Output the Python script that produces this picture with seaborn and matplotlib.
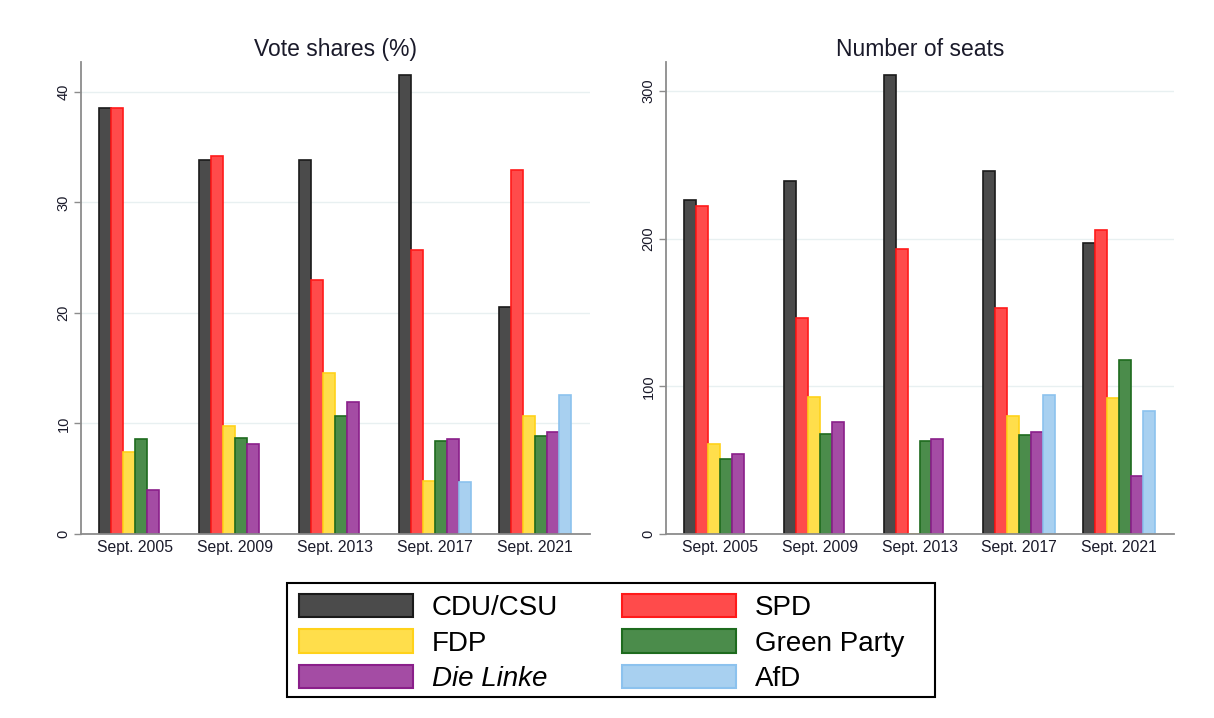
import numpy as np
import pandas as pd
import matplotlib
matplotlib.use("Agg")
import matplotlib.pyplot as plt
import seaborn as sns

elections = ["Sept. 2005", "Sept. 2009", "Sept. 2013", "Sept. 2017", "Sept. 2021"]
parties = ["CDU/CSU", "SPD", "FDP", "Green Party", "Die Linke", "AfD"]

vote_cdu = [38.5, 33.8, 33.8, 41.5, 20.5]
vote_spd = [38.5, 34.2, 23.0, 25.7, 32.9]
vote_fdp = [7.4, 9.8, 14.6, 4.8, 10.7]
vote_green = [8.6, 8.7, 10.7, 8.4, 8.9]
vote_linke = [4.0, 8.1, 11.9, 8.6, 9.2]
vote_afd = [np.nan, np.nan, np.nan, 4.7, 12.6]

seats_cdu = [226, 239, 311, 246, 197]
seats_spd = [222, 146, 193, 153, 206]
seats_fdp = [61, 93, 0, 80, 92]
seats_green = [51, 68, 63, 67, 118]
seats_linke = [54, 76, 64, 69, 39]
seats_afd = [np.nan, np.nan, np.nan, 94, 83]

fills = ["#4b4b4b", "#ff4b4b", "#ffde4b", "#4b8c4b", "#a44ca4", "#a8d0f0"]
edges = ["#1a1a1a", "#ff1a1a", "#ffd21a", "#1e6b1e", "#8a1f8a", "#8cc2ee"]

def long_df(series):
    rows = []
    for p, vals in zip(parties, series):
        for e, v in zip(elections, vals):
            if not np.isnan(v):
                rows.append({"election": e, "party": p, "value": v})
    return pd.DataFrame(rows)

vote_df = long_df([vote_cdu, vote_spd, vote_fdp, vote_green, vote_linke, vote_afd])
seat_df = long_df([seats_cdu, seats_spd, seats_fdp, seats_green, seats_linke, seats_afd])

sns.set_theme(style="white")
plt.rcParams["font.family"] = ["Liberation Sans", "DejaVu Sans"]

W, H = 1214, 718
fig = plt.figure(figsize=(W/100, H/100), dpi=100)
ax1 = fig.add_axes([81/W, 1-534/H, 509/W, 472/H])
ax2 = fig.add_axes([666/W, 1-534/H, 508/W, 472/H])

def draw(ax, df, title, ylim, yticks):
    sns.barplot(data=df, x="election", y="value", hue="party", order=elections,
                hue_order=parties, palette=fills, width=0.72, ax=ax,
                errorbar=None, saturation=1, legend=False, linewidth=1.2)
    for cont, ec in zip(ax.containers, edges):
        for patch in cont.patches:
            patch.set_edgecolor(ec)
    ax.set_xlim(-0.54, 4.55)
    ax.set_ylim(*ylim)
    ax.set_yticks(yticks)
    ax.set_yticklabels([str(t) for t in yticks], rotation=90, va="center", fontsize=10.5)
    ax.grid(axis="y", color="#e8f0f1", linewidth=1.0)
    ax.set_axisbelow(True)
    ax.set_xlabel("")
    ax.set_ylabel("")
    ax.set_title(title, fontsize=16.5, pad=4, color="#1a1a2a")
    for s in ["top", "right"]:
        ax.spines[s].set_visible(False)
    ax.spines["left"].set_color("#8c8c8c")
    ax.spines["bottom"].set_color("#8c8c8c")
    ax.spines["left"].set_linewidth(1.3)
    ax.spines["bottom"].set_linewidth(1.3)
    ax.tick_params(axis="y", length=5, width=1, color="#8c8c8c", left=True, pad=2.5,
                   labelcolor="#1a1a2a")
    ax.tick_params(axis="x", length=0, pad=4, labelsize=11.3, labelcolor="#1a1a2a")

draw(ax1, vote_df, "Vote shares (%)", (0, 42.7), [0, 10, 20, 30, 40])
draw(ax2, seat_df, "Number of seats", (0, 319.6), [0, 100, 200, 300])

handles = [plt.Rectangle((0, 0), 1, 1, facecolor=f, edgecolor=e, linewidth=1.5)
           for f, e in zip(fills, edges)]
order = [0, 2, 4, 1, 3, 5]
leg = fig.legend([handles[i] for i in order], [parties[i] for i in order],
                 loc="upper left", bbox_to_anchor=(299/W, 1-594/H), ncol=2,
                 fontsize=20, frameon=False, labelcolor="black",
                 handlelength=4.1, handleheight=0.9, columnspacing=2.3,
                 handletextpad=0.68, labelspacing=0.3, borderpad=0.0,
                 borderaxespad=0.0)
for t in leg.get_texts():
    if t.get_text() == "Die Linke":
        t.set_fontstyle("italic")

frame = plt.Rectangle((287/W, 1-697/H), (935-287)/W, (697-583)/H,
                      transform=fig.transFigure, fill=False,
                      edgecolor="black", linewidth=1.5)
fig.patches.append(frame)

fig.savefig("out.png", dpi=100, facecolor="white")
